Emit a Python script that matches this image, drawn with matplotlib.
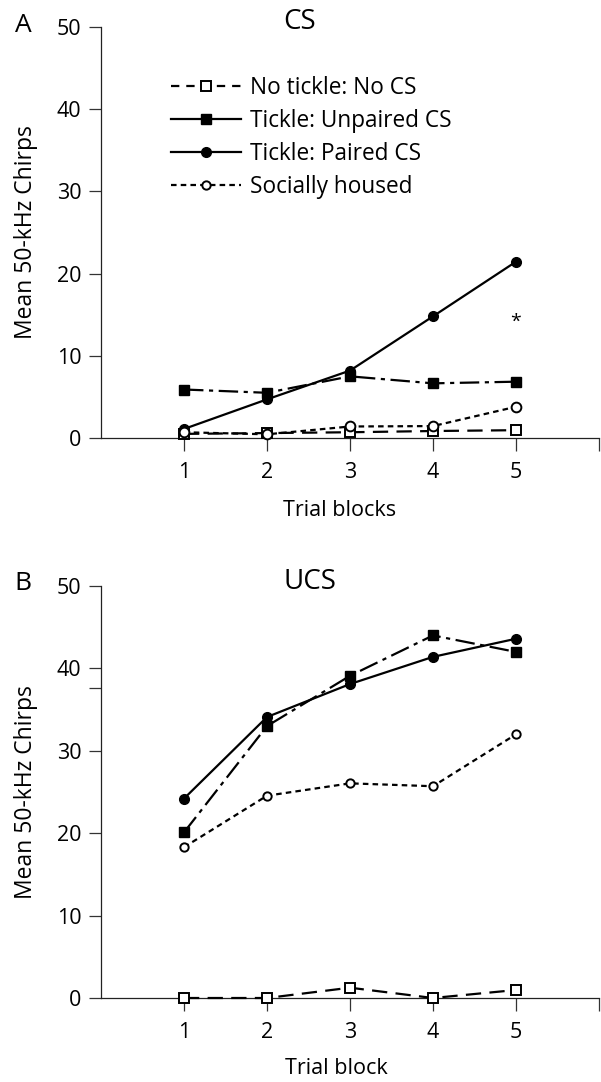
import numpy as np
import matplotlib
matplotlib.use("Agg")
import matplotlib.pyplot as plt
from matplotlib.lines import Line2D

plt.rcParams['font.family'] = ['Open Sans', 'DejaVu Sans']
plt.rcParams['lines.scale_dashes'] = False

blocks = [1, 2, 3, 4, 5]

# Panel A (CS)
cs_no_tickle = [0.5, 0.6, 0.7, 0.85, 0.95]
cs_unpaired = [5.9, 5.5, 7.5, 6.65, 6.85]
cs_paired = [1.1, 4.7, 8.2, 14.8, 21.45]
cs_social = [0.7, 0.45, 1.4, 1.45, 3.8]

# Panel B (UCS)
ucs_no_tickle = [0.0, 0.0, 1.25, 0.0, 0.97]
ucs_unpaired = [20.1, 33.0, 39.1, 44.0, 42.0]
ucs_paired = [24.2, 34.1, 38.1, 41.4, 43.6]
ucs_social = [18.3, 24.55, 26.05, 25.7, 32.0]

legend_labels = ["No tickle: No CS", "Tickle: Unpaired CS", "Tickle: Paired CS", "Socially housed"]

W, H = 601, 1082
fig = plt.figure(figsize=(W / 100, H / 100), dpi=100)


def fx(px):
    return px / W


def fy(py):
    return 1 - py / H


def draw_panel(ax, no_tickle, unpaired, paired, social, social_ms):
    ax.plot(blocks, no_tickle, color='black', lw=1.6, dashes=(11, 6),
            marker='s', ms=7, mfc='white', mec='black', mew=1.4, clip_on=False, zorder=3)
    ax.plot(blocks, unpaired, color='black', lw=1.6, dashes=(14, 4, 3, 4),
            marker='s', ms=7, mfc='black', mec='black', clip_on=False, zorder=4)
    ax.plot(blocks, paired, color='black', lw=1.6, linestyle='-',
            marker='o', ms=7, mfc='black', mec='black', clip_on=False, zorder=5)
    ax.plot(blocks, social, color='black', lw=1.6, dashes=(4, 3),
            marker='o', ms=social_ms, mfc='white', mec='black', mew=1.4, clip_on=False, zorder=6)
    ax.set_xlim(0, 6)
    ax.set_ylim(0, 50)
    ax.set_xticks([1, 2, 3, 4, 5, 6])
    ax.set_xticklabels(['1', '2', '3', '4', '5', ''])
    for side in ['top', 'right']:
        ax.spines[side].set_visible(False)
    for side in ['left', 'bottom']:
        ax.spines[side].set_linewidth(0.9)
        ax.spines[side].set_color('#222222')
    ax.tick_params(axis='both', length=9, width=0.9, color='#333333', labelsize=15.5)
    ax.tick_params(axis='x', pad=8)
    ax.tick_params(axis='y', pad=5)


axA = fig.add_axes([fx(101), fy(438), fx(498), 411 / H])
draw_panel(axA, cs_no_tickle, cs_unpaired, cs_paired, cs_social, 7)
axA.set_yticks([0, 10, 20, 30, 40, 50])
axA.text(5, 14.1, '*', ha='center', va='center', fontsize=14)

axB = fig.add_axes([fx(101), fy(998), fx(498), 412 / H])
draw_panel(axB, ucs_no_tickle, ucs_unpaired, ucs_paired, ucs_social, 6)
axB.set_yticks([0, 10, 20, 30, 37.6, 40, 50])
axB.set_yticklabels(['0', '10', '20', '30', '', '40', '50'])

# legend (drawn as in the original, tickle lines shown solid)
handles = [
    Line2D([], [], color='black', lw=1.6, dashes=(6, 5), marker='s', ms=7,
           mfc='white', mec='black', mew=1.4),
    Line2D([], [], color='black', lw=1.6, marker='s', ms=7, mfc='black'),
    Line2D([], [], color='black', lw=1.6, marker='o', ms=7, mfc='black'),
    Line2D([], [], color='black', lw=1.6, dashes=(4, 3), marker='o', ms=6,
           mfc='white', mec='black', mew=1.4),
]
fig.legend(handles, legend_labels, loc='upper left',
           bbox_to_anchor=(fx(171), fy(76)), bbox_transform=fig.transFigure,
           frameon=False, fontsize=16.3, handlelength=3.1, handletextpad=0.4,
           labelspacing=0.4, borderpad=0, borderaxespad=0)

# titles, panel letters and axis labels
fig.text(fx(283), fy(22), 'CS', fontsize=20, ha='left', va='center')
fig.text(fx(283), fy(582), 'UCS', fontsize=20, ha='left', va='center')
fig.text(fx(23), fy(25), 'A', fontsize=19, ha='center', va='center')
fig.text(fx(23), fy(583), 'B', fontsize=19, ha='center', va='center')
fig.text(fx(26), fy(232), 'Mean 50-kHz Chirps', rotation=90, fontsize=16.5, ha='center', va='center')
fig.text(fx(26), fy(792), 'Mean 50-kHz Chirps', rotation=90, fontsize=16.5, ha='center', va='center')
fig.text(fx(340), fy(510), 'Trial blocks', fontsize=15.5, ha='center', va='center')
fig.text(fx(336), fy(1068), 'Trial block', fontsize=15.5, ha='center', va='center')

fig.savefig('out.png', dpi=100)
